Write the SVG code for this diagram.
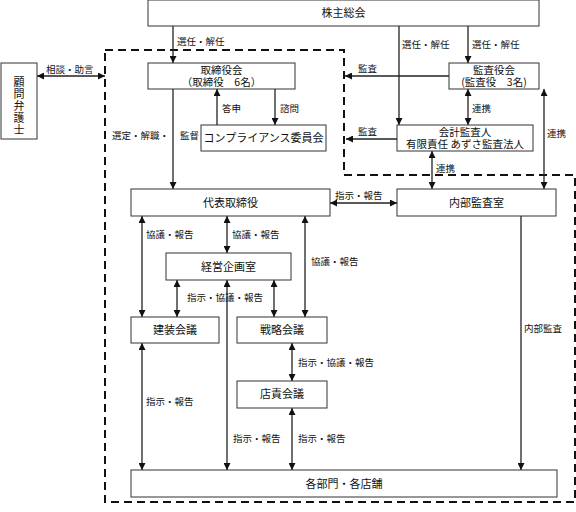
<svg xmlns="http://www.w3.org/2000/svg" width="576" height="512" viewBox="0 0 576 512">
<style>
.box{fill:#fff;stroke:#333;stroke-width:1}
.t{font-family:"Noto Sans CJK JP","Noto Sans",sans-serif;font-size:11px;fill:#111;text-anchor:middle}
.t2{font-family:"Noto Sans CJK JP","Noto Sans",sans-serif;font-size:10.5px;fill:#111;text-anchor:middle}
.v{font-family:"Noto Sans CJK JP","Noto Sans",sans-serif;font-size:11px;fill:#111;writing-mode:vertical-rl;letter-spacing:1px}
.l{font-family:"Noto Sans CJK JP","Noto Sans",sans-serif;font-size:9.5px;fill:#111}
.c{fill:none;stroke:#222;stroke-width:1.3}
.dash{fill:none;stroke:#111;stroke-width:2;stroke-dasharray:8,5}
</style>
<defs>
<marker id="ah" viewBox="0 0 10 10" refX="10" refY="5" markerWidth="7" markerHeight="7" orient="auto-start-reverse" markerUnits="userSpaceOnUse"><path d="M0,0 L10,5 L0,10 z" fill="#111"/></marker>
</defs>
<rect width="576" height="512" fill="#fff"/>
<path class="dash" d="M105,50 H344 V175 H575 V502 H105 Z"/>
<g id="connectors">
<line class="c" x1="173" y1="26" x2="173" y2="63" marker-end="url(#ah)"/>
<line class="c" x1="37" y1="76" x2="105" y2="76" marker-start="url(#ah)" marker-end="url(#ah)"/>
<line class="c" x1="173" y1="89" x2="173" y2="189" marker-end="url(#ah)"/>
<line class="c" x1="217" y1="125" x2="217" y2="89" marker-end="url(#ah)"/>
<line class="c" x1="275" y1="89" x2="275" y2="125" marker-end="url(#ah)"/>
<line class="c" x1="399" y1="26" x2="399" y2="125" marker-end="url(#ah)"/>
<line class="c" x1="468" y1="26" x2="468" y2="63" marker-end="url(#ah)"/>
<line class="c" x1="449" y1="76" x2="345" y2="76" marker-end="url(#ah)"/>
<line class="c" x1="397" y1="139" x2="346" y2="139" marker-end="url(#ah)"/>
<line class="c" x1="468" y1="89" x2="468" y2="125" marker-start="url(#ah)" marker-end="url(#ah)"/>
<line class="c" x1="544" y1="89" x2="544" y2="189" marker-start="url(#ah)" marker-end="url(#ah)"/>
<line class="c" x1="432" y1="151" x2="432" y2="189" marker-start="url(#ah)" marker-end="url(#ah)"/>
<line class="c" x1="330" y1="203" x2="397" y2="203" marker-start="url(#ah)" marker-end="url(#ah)"/>
<line class="c" x1="521" y1="216" x2="521" y2="470" marker-end="url(#ah)"/>
<line class="c" x1="142" y1="216" x2="142" y2="317" marker-start="url(#ah)" marker-end="url(#ah)"/>
<line class="c" x1="227" y1="216" x2="227" y2="253" marker-start="url(#ah)" marker-end="url(#ah)"/>
<line class="c" x1="305" y1="216" x2="305" y2="317" marker-start="url(#ah)" marker-end="url(#ah)"/>
<line class="c" x1="177" y1="280" x2="177" y2="317" marker-start="url(#ah)" marker-end="url(#ah)"/>
<line class="c" x1="274" y1="280" x2="274" y2="317" marker-start="url(#ah)" marker-end="url(#ah)"/>
<line class="c" x1="227" y1="280" x2="227" y2="470" marker-start="url(#ah)" marker-end="url(#ah)"/>
<line class="c" x1="142" y1="343" x2="142" y2="470" marker-start="url(#ah)" marker-end="url(#ah)"/>
<line class="c" x1="292" y1="343" x2="292" y2="381" marker-start="url(#ah)" marker-end="url(#ah)"/>
<line class="c" x1="292" y1="408" x2="292" y2="470" marker-start="url(#ah)" marker-end="url(#ah)"/>
<text class="l" x="177" y="45">選任・解任</text>
<text class="l" x="46" y="73">相談・助言</text>
<text class="l" x="112" y="139">選定・解職・</text>
<text class="l" x="180" y="139">監督</text>
<text class="l" x="222" y="112">答申</text>
<text class="l" x="280" y="112">諮問</text>
<text class="l" x="402" y="48">選任・解任</text>
<text class="l" x="472" y="48">選任・解任</text>
<text class="l" x="358" y="72">監査</text>
<text class="l" x="358" y="135">監査</text>
<text class="l" x="472" y="112">連携</text>
<text class="l" x="547" y="137">連携</text>
<text class="l" x="436" y="172">連携</text>
<text class="l" x="335" y="199">指示・報告</text>
<text class="l" x="146" y="238">協議・報告</text>
<text class="l" x="232" y="238">協議・報告</text>
<text class="l" x="311" y="265">協議・報告</text>
<text class="l" x="187" y="301">指示・協議・報告</text>
<text class="l" x="524" y="332">内部監査</text>
<text class="l" x="298" y="366">指示・協議・報告</text>
<text class="l" x="146" y="405">指示・報告</text>
<text class="l" x="233" y="442">指示・報告</text>
<text class="l" x="298" y="442">指示・報告</text>
</g>
<g id="kabunushi"><rect class="box" x="148" y="0" width="391" height="26"/><text class="t" x="343.5" y="17">株主総会</text></g>
<g id="torishimariyakukai"><rect class="box" x="148" y="63" width="147" height="26"/><text class="t2"><tspan x="221.5" y="74">取締役会</tspan><tspan x="221.5" y="86">（取締役　6名）</tspan></text></g>
<g id="komon"><rect class="box" x="1" y="63" width="36" height="76"/><text class="v" x="19" y="76">顧問弁護士</text></g>
<g id="compliance"><rect class="box" x="201" y="125" width="125" height="26"/><text class="t" x="263.5" y="142">コンプライアンス委員会</text></g>
<g id="kansayakukai"><rect class="box" x="449" y="63" width="90" height="26"/><text class="t2"><tspan x="494" y="74">監査役会</tspan><tspan x="494" y="86">(監査役　3名)</tspan></text></g>
<g id="kaikeikansanin"><rect class="box" x="397" y="125" width="136" height="26"/><text class="t2"><tspan x="465" y="136">会計監査人</tspan><tspan x="465" y="148">有限責任 あずさ監査法人</tspan></text></g>
<g id="daihyo"><rect class="box" x="131" y="189" width="199" height="27"/><text class="t" x="230.5" y="207">代表取締役</text></g>
<g id="naibukansa"><rect class="box" x="397" y="189" width="159" height="27"/><text class="t" x="476.5" y="207">内部監査室</text></g>
<g id="keiei"><rect class="box" x="166" y="253" width="125" height="27"/><text class="t" x="228.5" y="271">経営企画室</text></g>
<g id="kenso"><rect class="box" x="131" y="317" width="88" height="26"/><text class="t" x="175" y="334">建装会議</text></g>
<g id="senryaku"><rect class="box" x="237" y="317" width="90" height="26"/><text class="t" x="282" y="334">戦略会議</text></g>
<g id="tenseki"><rect class="box" x="237" y="381" width="90" height="27"/><text class="t" x="282" y="398">店責会議</text></g>
<g id="kakubumon"><rect class="box" x="131" y="470" width="426" height="27"/><text class="t" x="344" y="488">各部門・各店舗</text></g>
</svg>
